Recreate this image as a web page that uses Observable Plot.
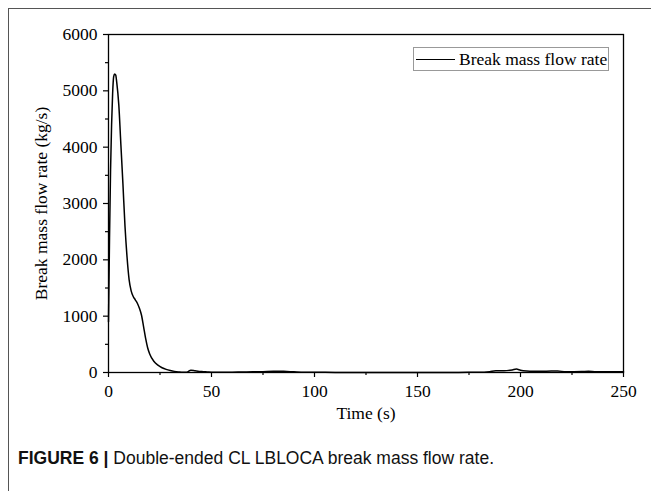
<!DOCTYPE html>
<html>
<head>
<meta charset="utf-8">
<script src="https://cdn.jsdelivr.net/npm/d3@7"></script>
<script src="https://cdn.jsdelivr.net/npm/@observablehq/plot@0.6"></script>
<style>
  html, body { margin: 0; padding: 0; background: #fff; }
  #wrap { position: relative; width: 651px; height: 491px; overflow: hidden; }
  #border { position: absolute; left: 8px; top: 8px; right: -2px; bottom: -2px;
            border-top: 1.5px solid #555; border-left: 1.5px solid #555; }
  #chart { position: absolute; left: 0; top: 0; }
  #legend { position: absolute; left: 413px; top: 47px; width: 196px; height: 24px;
            border: 1px solid #999; background: #fff; box-sizing: border-box;
            font-family: "Liberation Serif", "Times New Roman", serif; font-size: 17.5px;
            display: flex; align-items: center; white-space: nowrap; }
  #legend .sw { display: inline-block; width: 39px; height: 0; border-top: 1.5px solid #000; margin-left: 2px; margin-right: 4px; }
  #caption { position: absolute; left: 18px; top: 447px; font-family: "Liberation Sans", Arial, sans-serif;
             font-size: 17.5px; line-height: 22px; color: #111; white-space: nowrap; }
</style>
</head>
<body>
<div id="wrap">
  <div id="border"></div>
  <div id="chart"></div>
  <div id="legend"><span class="sw"></span><span id="legtext"></span></div>
  <div id="caption"><b>FIGURE 6 |</b> Double-ended CL LBLOCA break mass flow rate.</div>
</div>
<script>
// ---- data ----
const seriesName = "Break mass flow rate";
const xLabel = "Time (s)";
const yLabel = "Break mass flow rate (kg/s)";
const xTicks = [0, 50, 100, 150, 200, 250];
const xMinorTicks = [25, 75, 125, 175, 225];
const yTicks = [0, 1000, 2000, 3000, 4000, 5000, 6000];
const yMinorTicks = [500, 1500, 2500, 3500, 4500, 5500];
const time = [0, 0.5, 1, 1.5, 2, 2.5, 3, 3.5, 4, 5, 6, 7, 8, 9, 10, 11, 12, 13, 14, 15, 16, 17, 18, 19, 20,
  22, 24, 26, 28, 30, 32, 34, 36, 38, 40, 42, 44, 46, 48, 50, 55, 60, 65, 70, 75, 80, 85, 90, 95, 100,
  110, 120, 130, 140, 150, 160, 170, 180, 185, 188, 192, 196, 198, 200, 203, 206, 210, 215, 218, 222,
  226, 230, 233, 236, 240, 245, 250];
const flow = [900, 2400, 3600, 4400, 4950, 5250, 5300, 5280, 5150, 4750, 4050, 3350, 2600, 2050, 1650, 1450, 1350, 1290, 1230, 1140, 1020, 820, 610, 440, 330,
  200, 130, 85, 55, 35, 20, 10, 3, 5, 40, 30, 20, 15, 10, 5, 5, 5, 10, 12, 15, 20, 20, 12, 5, 3,
  2, 2, 2, 2, 2, 2, 2, 3, 15, 30, 30, 45, 60, 40, 25, 20, 20, 25, 25, 15,
  15, 18, 22, 15, 12, 15, 12];

const data = time.map((t, i) => ({t, v: flow[i]}));
document.getElementById("legtext").textContent = seriesName;

const serif = "'Liberation Serif', 'Times New Roman', serif";
const fmt = d3.format("d");
const plot = Plot.plot({
  width: 651,
  height: 430,
  marginLeft: 108,
  marginRight: 28,
  marginTop: 34,
  marginBottom: 58,
  style: {fontFamily: serif, fontSize: "17.5px", color: "#000", background: "transparent"},
  x: {domain: [0, 250]},
  y: {domain: [0, 6000]},
  marks: [
    Plot.frame({stroke: "#000", strokeWidth: 1.3}),
    Plot.axisX({ticks: xTicks, tickSize: 5, tickPadding: 7, tickFormat: fmt, label: null, fontSize: 17.5, strokeWidth: 1.2}),
    Plot.axisX({ticks: xMinorTicks, tickSize: 3, tickFormat: () => "", label: null, strokeWidth: 1.2}),
    Plot.axisY({ticks: yTicks, tickSize: 5, tickPadding: 6, tickFormat: fmt, label: null, fontSize: 17.5, strokeWidth: 1.2}),
    Plot.axisY({ticks: yMinorTicks, tickSize: 3, tickFormat: () => "", label: null, strokeWidth: 1.2}),
    Plot.line(data, {x: "t", y: "v", stroke: "#000", strokeWidth: 1.5, curve: "monotone-x"}),
    Plot.text([xLabel], {frameAnchor: "bottom", dy: 41, textAnchor: "middle", lineAnchor: "middle", fontSize: 17.5}),
    Plot.text([yLabel], {frameAnchor: "left", dx: -67, rotate: -90, textAnchor: "middle", lineAnchor: "middle", fontSize: 17.5})
  ]
});
document.getElementById("chart").appendChild(plot);
</script>
</body>
</html>
